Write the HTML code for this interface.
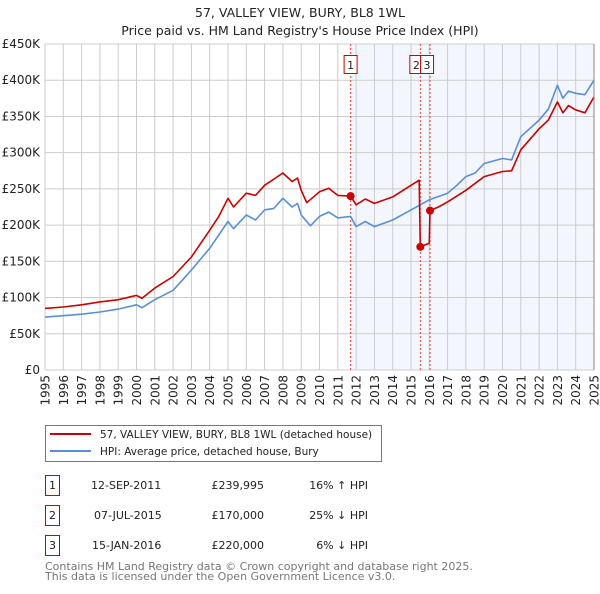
<!DOCTYPE html>
<html><head><meta charset="utf-8"><style>
body{margin:0;background:#fff;font-family:"DejaVu Sans","Liberation Sans",sans-serif;}
svg text{font-family:"DejaVu Sans","Liberation Sans",sans-serif;}
</style></head><body>
<svg id="c" width="600" height="590" xmlns="http://www.w3.org/2000/svg">
<text x="300" y="17" text-anchor="middle" font-size="12.5" fill="#222">57, VALLEY VIEW, BURY, BL8 1WL</text>
<text x="300" y="35" text-anchor="middle" font-size="12.5" fill="#222">Price paid vs. HM Land Registry's House Price Index (HPI)</text>
<g id="plot"></g>
<g>
<rect x="45.5" y="425.5" width="336" height="36" fill="#fff" stroke="#777"/>
<line x1="50" y1="434" x2="91" y2="434" stroke="#cc0000" stroke-width="2"/>
<text x="100" y="438" font-size="10.5" fill="#222">57, VALLEY VIEW, BURY, BL8 1WL (detached house)</text>
<line x1="50" y1="451" x2="91" y2="451" stroke="#5b8fd4" stroke-width="2"/>
<text x="100" y="455" font-size="10.5" fill="#222">HPI: Average price, detached house, Bury</text>
</g>
<g font-size="11" fill="#222">
<rect x="45.5" y="475.5" width="14" height="20" fill="none" stroke="#cc0000"/><text x="52.5" y="489" text-anchor="middle">1</text>
<text x="91" y="489">12-SEP-2011</text><text x="264" y="489" text-anchor="end">£239,995</text><text x="368" y="489" text-anchor="end">16% ↑ HPI</text>
<rect x="45.5" y="505.5" width="14" height="20" fill="none" stroke="#cc0000"/><text x="52.5" y="519" text-anchor="middle">2</text>
<text x="94" y="519">07-JUL-2015</text><text x="264" y="519" text-anchor="end">£170,000</text><text x="368" y="519" text-anchor="end">25% ↓ HPI</text>
<rect x="45.5" y="535.5" width="14" height="20" fill="none" stroke="#cc0000"/><text x="52.5" y="549" text-anchor="middle">3</text>
<text x="92" y="549">15-JAN-2016</text><text x="264" y="549" text-anchor="end">£220,000</text><text x="368" y="549" text-anchor="end">6% ↓ HPI</text>
</g>
<text x="45" y="570" font-size="11" fill="#777">Contains HM Land Registry data © Crown copyright and database right 2025.</text>
<text x="45" y="580" font-size="11" fill="#777">This data is licensed under the Open Government Licence v3.0.</text>
</svg>
<script>
const hpiYears=[1995,1996,1997,1998,1999,2000,2000.3,2001,2002,2002.5,2003,2004,2005,2005.3,2006,2006.5,2007,2007.5,2008,2008.5,2008.8,2009,2009.5,2010,2010.5,2011,2011.7,2012,2012.5,2013,2014,2015,2016,2017,2017.5,2018,2018.5,2019,2020,2020.5,2021,2022,2022.5,2023,2023.3,2023.6,2024,2024.5,2025];
const hpiValues=[73,75,77,80,84,90,86,97,110,124,138,168,205,195,214,207,221,223,237,225,230,214,199,212,218,210,212,198,205,198,207,221,235,244,255,267,272,285,292,290,322,345,360,393,375,385,382,380,400];
const redYears=[1995,1996,1997,1998,1999,2000,2000.3,2001,2002,2003,2004,2004.5,2005,2005.3,2006,2006.5,2007,2008,2008.5,2008.8,2009,2009.3,2010,2010.5,2011,2011.7,2012,2012.5,2013,2014,2015,2015.45,2015.51,2016.0,2016.04,2016.5,2017,2018,2019,2020,2020.5,2021,2022,2022.5,2023,2023.3,2023.6,2024,2024.5,2025];
const redValues=[85,87,90,94,97,103,99,113,129,156,193,212,237,225,244,241,255,272,260,265,248,231,246,251,241,240,228,236,230,239,255,262,170,175,220,225,232,248,267,274,275,304,333,345,370,355,365,359,355,377];
const saleYears=[2011.7,2015.51,2016.04];
const saleValues=[239.995,170,220];
const saleLabels=["1","2","3"];
const yTicks=[0,50,100,150,200,250,300,350,400,450];
const yTickLabels=["£0","£50K","£100K","£150K","£200K","£250K","£300K","£350K","£400K","£450K"];
const xTicks=[1995,1996,1997,1998,1999,2000,2001,2002,2003,2004,2005,2006,2007,2008,2009,2010,2011,2012,2013,2014,2015,2016,2017,2018,2019,2020,2021,2022,2023,2024,2025];

const X0=45,X1=594,Y0=370,Y1=44;
const xs=y=>X0+(y-1995)/30*(X1-X0);
const ys=v=>Y0-v/450*(Y0-Y1);
const NS="http://www.w3.org/2000/svg";
const g=document.getElementById('plot');
function mk(t,a,p){const e=document.createElementNS(NS,t);for(const k in a)e.setAttribute(k,a[k]);(p||g).appendChild(e);return e;}
let bg=mk('rect',{x:X0,y:Y1,width:X1-X0,height:Y0-Y1,fill:'#fff'});


let sh=mk('rect',{x:xs(saleYears[0]),y:Y1,width:X1-xs(saleYears[0]),height:Y0-Y1,fill:'#f3f6fd'});


yTicks.forEach((v,i)=>{
 let l=mk('line',{x1:X0,x2:X1,y1:ys(v),y2:ys(v),stroke:'#cccccc','stroke-width':1});
 
 
 let t=mk('text',{x:X0-5,y:ys(v)+4,'text-anchor':'end','font-size':12,fill:'#222'});
 t.textContent=yTickLabels[i];
 
 
});
xTicks.forEach(y=>{
 let l=mk('line',{x1:xs(y),x2:xs(y),y1:Y1,y2:Y0,stroke:'#cccccc','stroke-width':1});
 
 
 let t=mk('text',{x:0,y:0,'text-anchor':'end','font-size':12,fill:'#222',transform:`translate(${xs(y)+4.5},${Y0+5}) rotate(-90)`});
 t.textContent=y;
 
 
});
saleYears.forEach((y,i)=>{
 let l=mk('line',{x1:xs(y),x2:xs(y),y1:Y1,y2:Y0,stroke:'#ee4444','stroke-width':1,'stroke-dasharray':'2,2'});
 
 
});
function path(xa,va,col,name){
 let d=xa.map((y,i)=>(i?'L':'M')+xs(y).toFixed(1)+','+ys(va[i]).toFixed(1)).join('');
 let p=mk('path',{d:d,fill:'none',stroke:col,'stroke-width':1.6,'stroke-linejoin':'round'});
 
 
}
path(hpiYears,hpiValues,'#5b8fd4','hpi-line');
path(redYears,redValues,'#cc0000','price-paid-line');
saleYears.forEach((y,i)=>{
 let c=mk('circle',{cx:xs(y),cy:ys(saleValues[i]),r:4,fill:'#cc0000'});
 
 
});
saleYears.forEach((y,i)=>{
 let bx=(i==1?xs(y)-11:i==2?xs(y)-10:xs(y)-7);
 let r=mk('rect',{x:bx+0.5,y:55.5,width:13,height:18,fill:'#fff',stroke:'#cc0000'});
 
 
 let t=mk('text',{x:bx+7,y:69,'text-anchor':'middle','font-size':11,fill:'#222'});
 t.textContent=saleLabels[i];
 
 
});
let ax=mk('line',{x1:X1,x2:X1,y1:Y1,y2:Y0,stroke:'#888','stroke-width':1});


</script>
</body></html>
